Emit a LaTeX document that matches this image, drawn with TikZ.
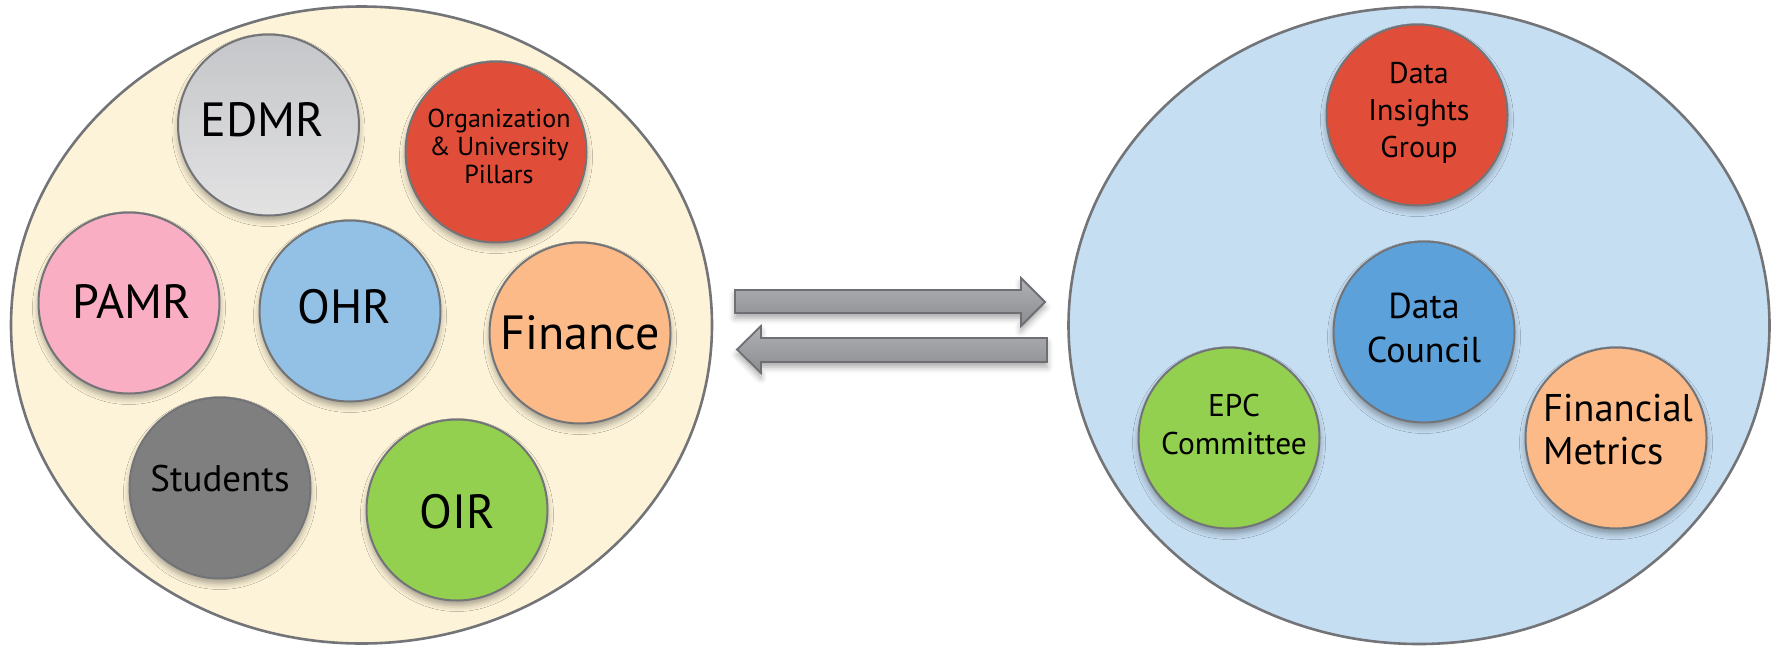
\documentclass[tikz,border=0pt]{standalone}
\usepackage{fontspec}
\setmainfont{PT Sans}
\usetikzlibrary{shapes.geometric,shadows.blur}

\definecolor{rimgray}{HTML}{727478}
\definecolor{cream}{HTML}{FDF3D8}
\definecolor{paleblue}{HTML}{C6DEF2}
\definecolor{edmrtop}{HTML}{C5C6C9}
\definecolor{edmrbot}{HTML}{E2E2E3}
\definecolor{brick}{HTML}{E04D39}
\definecolor{rose}{HTML}{FAAEC3}
\definecolor{skyblue}{HTML}{93C1E6}
\definecolor{peach}{HTML}{FBBA87}
\definecolor{charcoal}{HTML}{7F7F7F}
\definecolor{lime}{HTML}{93D050}
\definecolor{midblue}{HTML}{5CA1DA}
\definecolor{arrowtop}{HTML}{B0B1B5}
\definecolor{arrowbot}{HTML}{8B8C90}
\definecolor{arrowrim}{HTML}{6E6F73}

\newcommand{\fs}[2]{\fontsize{#1}{#2}\selectfont}

\begin{document}
\begin{tikzpicture}[x=0.5pt,y=-0.5pt,
  rim/.style={draw=rimgray, line width=1pt},
  softshadow/.style={blur shadow={shadow xshift=0pt, shadow yshift=-2.5pt,
      shadow blur radius=3pt, shadow opacity=35}},
  group/.style={ellipse, rim, line width=1.3pt, inner sep=0pt,
      minimum width=350.5pt, minimum height=318.5pt},
  unit/.style={circle, rim, softshadow, inner sep=0pt, minimum size=90.5pt},
  caption/.style={align=center, text=black, inner sep=0pt},
  blockarrow/.style={draw=arrowrim, line width=0.9pt, top color=arrowtop,
      bottom color=arrowbot, softshadow, line join=miter}]

\useasboundingbox (0,0) rectangle (1777,649);

% the two groupings
\node[group, fill=cream]     (units)   at (361.5,325) {};
\node[group, fill=paleblue]  (council) at (1419,325.5) {};

% member circles of the left grouping
\node[unit, top color=edmrtop, bottom color=edmrbot] (edmr) at (268.5,125) {};
\node[unit, fill=brick]    (pillars)  at (496,152) {};
\node[unit, fill=rose]     (pamr)     at (129,303) {};
\node[unit, fill=skyblue]  (ohr)      at (350,311) {};
\node[unit, fill=peach]    (finance)  at (580,333) {};
\node[unit, fill=charcoal] (students) at (220,488) {};
\node[unit, fill=lime]     (oir)      at (457,510) {};

% member circles of the right grouping
\node[unit, fill=brick]    (insights) at (1417,115) {};
\node[unit, fill=midblue]  (dcouncil) at (1424,332) {};
\node[unit, fill=lime]     (epc)      at (1229,438) {};
\node[unit, fill=peach]    (metrics)  at (1616,438) {};

% labels
\node[caption, font=\fs{24}{28}] (edmr-t) at ([xshift=-3pt,yshift=2.5pt]edmr.center) {EDMR};
\node[caption, font=\fs{13}{14}] (pillars-t) at ([xshift=1.5pt,yshift=3pt]pillars.center)
  {Organization\\\& University\\Pillars};
\node[caption, font=\fs{24}{28}] (pamr-t) at ([xshift=1.5pt,yshift=1pt]pamr.center) {PAMR};
\node[caption, font=\fs{24}{28}] (ohr-t) at ([xshift=-3pt,yshift=2pt]ohr.center) {OHR};
\node[caption, font=\fs{24}{28}] (finance-t) at (finance.center) {Finance};
\node[caption, font=\fs{18.5}{22}] (students-t) at ([yshift=4.5pt]students.center) {Students};
\node[caption, font=\fs{24}{28}] (oir-t) at ([yshift=-1pt]oir.center) {OIR};

\node[caption, font=\fs{15}{18.5}] (insights-t) at ([xshift=1pt,yshift=1pt]insights.center)
  {Data\\Insights\\Group};
\node[caption, font=\fs{18}{22}] (dcouncil-t) at ([yshift=2pt]dcouncil.center) {Data\\Council};
\node[caption, font=\fs{15.7}{19}] (epc-t) at ([xshift=2.5pt,yshift=7pt]epc.center) {EPC\\Committee};
\node[caption, align=left, font=\fs{19.3}{21.5}] (metrics-t) at ([xshift=1pt,yshift=4pt]metrics.center)
  {Financial\\Metrics};

% exchange arrows between the groupings
\coordinate (fwd-tail) at (735,301.5);
\coordinate (fwd-tip)  at (1045,302);
\coordinate (back-tail) at (1047,350);
\coordinate (back-tip)  at (737,349.5);

\path[blockarrow] (fwd-tail) ++(0,-11.5) -- (1021,290) -- (1021,278) -- (fwd-tip)
  -- (1021,326) -- (1021,313) -- (735,313) -- cycle;
\path[blockarrow] (back-tail) ++(0,-12) -- (761,338) -- (761,326) -- (back-tip)
  -- (761,373) -- (761,362) -- (1047,362) -- cycle;

\end{tikzpicture}
\end{document}
